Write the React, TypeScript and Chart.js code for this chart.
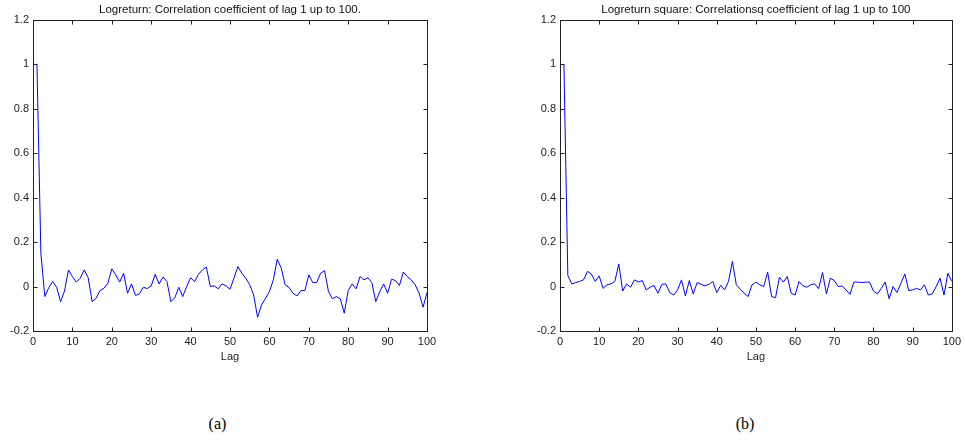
import React, { useEffect, useRef } from "react";
import { Chart, registerables } from "chart.js";

Chart.register(...registerables);

// Lags 0..100
const lags: number[] = Array.from({ length: 101 }, (_, i) => i);

// (a) Logreturn autocorrelation, lags 0..100
const acfReturn: number[] = [
  1, 1, 0.15, -0.045, -0.005, 0.023, -0.003, -0.068, -0.02, 0.075,
  0.045, 0.02, 0.038, 0.075, 0.04, -0.068, -0.053, -0.018, -0.008, 0.015,
  0.08, 0.053, 0.02, 0.06, -0.03, 0.012, -0.04, -0.033, -0.003, -0.009,
  0.003, 0.055, 0.012, 0.043, 0.022, -0.068, -0.05, -0.003, -0.045, 0,
  0.04, 0.022, 0.055, 0.075, 0.088, 0, 0.003, -0.01, 0.012, 0.003,
  -0.012, 0.038, 0.09, 0.06, 0.038, 0.008, -0.038, -0.138, -0.083, -0.053,
  -0.023, 0.03, 0.123, 0.083, 0.008, -0.005, -0.03, -0.042, -0.018, -0.018,
  0.053, 0.018, 0.018, 0.06, 0.072, -0.023, -0.055, -0.045, -0.055, -0.12,
  -0.018, 0.012, -0.01, 0.045, 0.03, 0.04, 0.018, -0.068, -0.023, 0.012,
  -0.03, 0.033, 0.027, 0.005, 0.065, 0.045, 0.03, 0.008, -0.03, -0.093,
  -0.027,
];

// (b) Logreturn square autocorrelation, lags 0..100
const acfSquare: number[] = [
  1, 1, 0.05, 0.012, 0.018, 0.023, 0.03, 0.068, 0.057, 0.023,
  0.048, -0.008, 0.008, 0.012, 0.023, 0.102, -0.02, 0.012, -0.003, 0.03,
  0.021, 0.027, -0.015, -0.003, 0.005, -0.03, 0.01, 0.012, -0.027, -0.038,
  -0.015, 0.03, -0.042, 0.027, -0.033, 0.018, 0.01, 0.003, 0.01, 0.023,
  -0.027, 0.005, -0.015, 0.023, 0.113, 0.008, -0.012, -0.03, -0.045, 0.008,
  0.02, 0.008, 0, 0.065, -0.045, -0.05, 0.042, 0.02, 0.045, -0.03,
  -0.038, 0.023, 0.003, -0.003, 0.008, 0.012, -0.01, 0.063, -0.033, 0.038,
  0.027, 0, 0.003, -0.015, -0.035, 0.02, 0.02, 0.018, 0.02, 0.02,
  -0.02, -0.033, -0.008, 0.02, -0.055, 0, -0.027, 0.015, 0.057, -0.018,
  -0.015, -0.008, -0.015, 0.008, -0.038, -0.033, 0, 0.038, -0.038, 0.06,
  0.023,
];

const titleA = "Logreturn: Correlation coefficient of lag 1 up to 100.";
const titleB = "Logreturn square: Correlationsq coefficient of lag 1 up to 100";
const xTitle = "Lag";
const yMin = -0.2;
const yMax = 1.2;
const yStep = 0.2;
const xMin = 0;
const xMax = 100;
const xStep = 10;

const FONT = '"Liberation Sans", Arial, Helvetica, sans-serif';
const AXIS = "#222222";

const framePlugin = {
  id: "matlabFrame",
  afterDraw(chart: any, _args: any, opts: any) {
    const { ctx, chartArea } = chart;
    const { left, right, top, bottom } = chartArea;
    const xs = chart.scales.x;
    const ys = chart.scales.y;
    ctx.save();
    ctx.strokeStyle = AXIS;
    ctx.lineWidth = 1;
    const L = Math.round(left) + 0.5;
    const R = Math.round(right) + 0.5;
    const T = Math.round(top) + 0.5;
    const B = Math.round(bottom) + 0.5;
    ctx.strokeRect(L, T, R - L, B - T);
    ctx.beginPath();
    const tl = 4;
    xs.ticks.forEach((t: any) => {
      const px = Math.round(xs.getPixelForValue(t.value)) + 0.5;
      ctx.moveTo(px, B);
      ctx.lineTo(px, B - tl);
      ctx.moveTo(px, T);
      ctx.lineTo(px, T + tl);
    });
    ys.ticks.forEach((t: any) => {
      const py = Math.round(ys.getPixelForValue(t.value)) + 0.5;
      ctx.moveTo(L, py);
      ctx.lineTo(L + tl, py);
      ctx.moveTo(R, py);
      ctx.lineTo(R - tl, py);
    });
    ctx.stroke();
    if (opts && opts.text) {
      ctx.fillStyle = "#111";
      ctx.font = "11.5px " + FONT;
      ctx.textAlign = "center";
      ctx.textBaseline = "alphabetic";
      ctx.fillText(opts.text, (left + right) / 2, top - 7);
    }
    ctx.restore();
  },
};

function fmt(v: number | string) {
  const n = Number(Number(v).toFixed(1));
  return String(n === 0 ? 0 : n);
}

function AcfChart(props: {
  values: number[];
  title: string;
  width: number;
  height: number;
  padRight: number;
}) {
  const ref = useRef<HTMLCanvasElement | null>(null);
  useEffect(() => {
    if (!ref.current) return;
    const data = lags.map((x, i) => ({ x, y: props.values[i] }));
    const chart = new Chart(ref.current, {
      type: "line",
      data: {
        datasets: [
          {
            data,
            borderColor: "rgb(0,0,255)",
            borderWidth: 1,
            pointRadius: 0,
            tension: 0,
            fill: false,
          },
        ],
      },
      options: {
        animation: false,
        responsive: false,
        devicePixelRatio: 1,
        layout: { padding: { left: 0, top: 20, right: props.padRight, bottom: 0 } },
        plugins: {
          legend: { display: false },
          tooltip: { enabled: false },
          title: { display: false },
          matlabFrame: { text: props.title },
        } as any,
        scales: {
          x: {
            type: "linear",
            min: xMin,
            max: xMax,
            grid: { display: false, drawTicks: false },
            border: { display: false },
            ticks: {
              stepSize: xStep,
              padding: 4,
              color: AXIS,
              autoSkip: false,
              maxRotation: 0,
              font: { size: 11, family: FONT },
              callback: (v: any) => fmt(v),
            },
            title: {
              display: true,
              text: xTitle,
              color: AXIS,
              font: { size: 11, family: FONT },
              padding: { top: 0, bottom: 8 },
            },
            afterFit: (s: any) => {
              s.height = 41;
            },
          },
          y: {
            type: "linear",
            min: yMin,
            max: yMax,
            grid: { display: false, drawTicks: false },
            border: { display: false },
            ticks: {
              stepSize: yStep,
              padding: 4,
              color: AXIS,
              autoSkip: false,
              font: { size: 11, family: FONT },
              callback: (v: any) => fmt(v),
            },
            afterFit: (s: any) => {
              s.width = 33;
            },
          },
        },
      },
      plugins: [framePlugin],
    } as any);
    return () => chart.destroy();
  }, []);
  return (
    <canvas
      ref={ref}
      width={props.width}
      height={props.height}
      style={{ width: props.width, height: props.height, display: "block" }}
    />
  );
}

const captionStyle: React.CSSProperties = {
  position: "absolute",
  top: 414,
  width: 60,
  textAlign: "center",
  fontFamily: '"Liberation Serif", "Times New Roman", serif',
  fontSize: 16,
  color: "#000",
  lineHeight: "20px",
};

export default function App() {
  return (
    <div
      style={{
        position: "absolute",
        left: 0,
        top: 0,
        width: 965,
        height: 442,
        background: "#fff",
        overflow: "hidden",
      }}
    >
      <div style={{ position: "absolute", left: 0, top: 0 }}>
        <AcfChart values={acfReturn} title={titleA} width={480} height={372} padRight={53} />
      </div>
      <div style={{ position: "absolute", left: 527, top: 0 }}>
        <AcfChart values={acfSquare} title={titleB} width={438} height={372} padRight={12} />
      </div>
      <div style={{ ...captionStyle, left: 217.5 - 30 }}>(a)</div>
      <div style={{ ...captionStyle, left: 745 - 30 }}>(b)</div>
    </div>
  );
}
